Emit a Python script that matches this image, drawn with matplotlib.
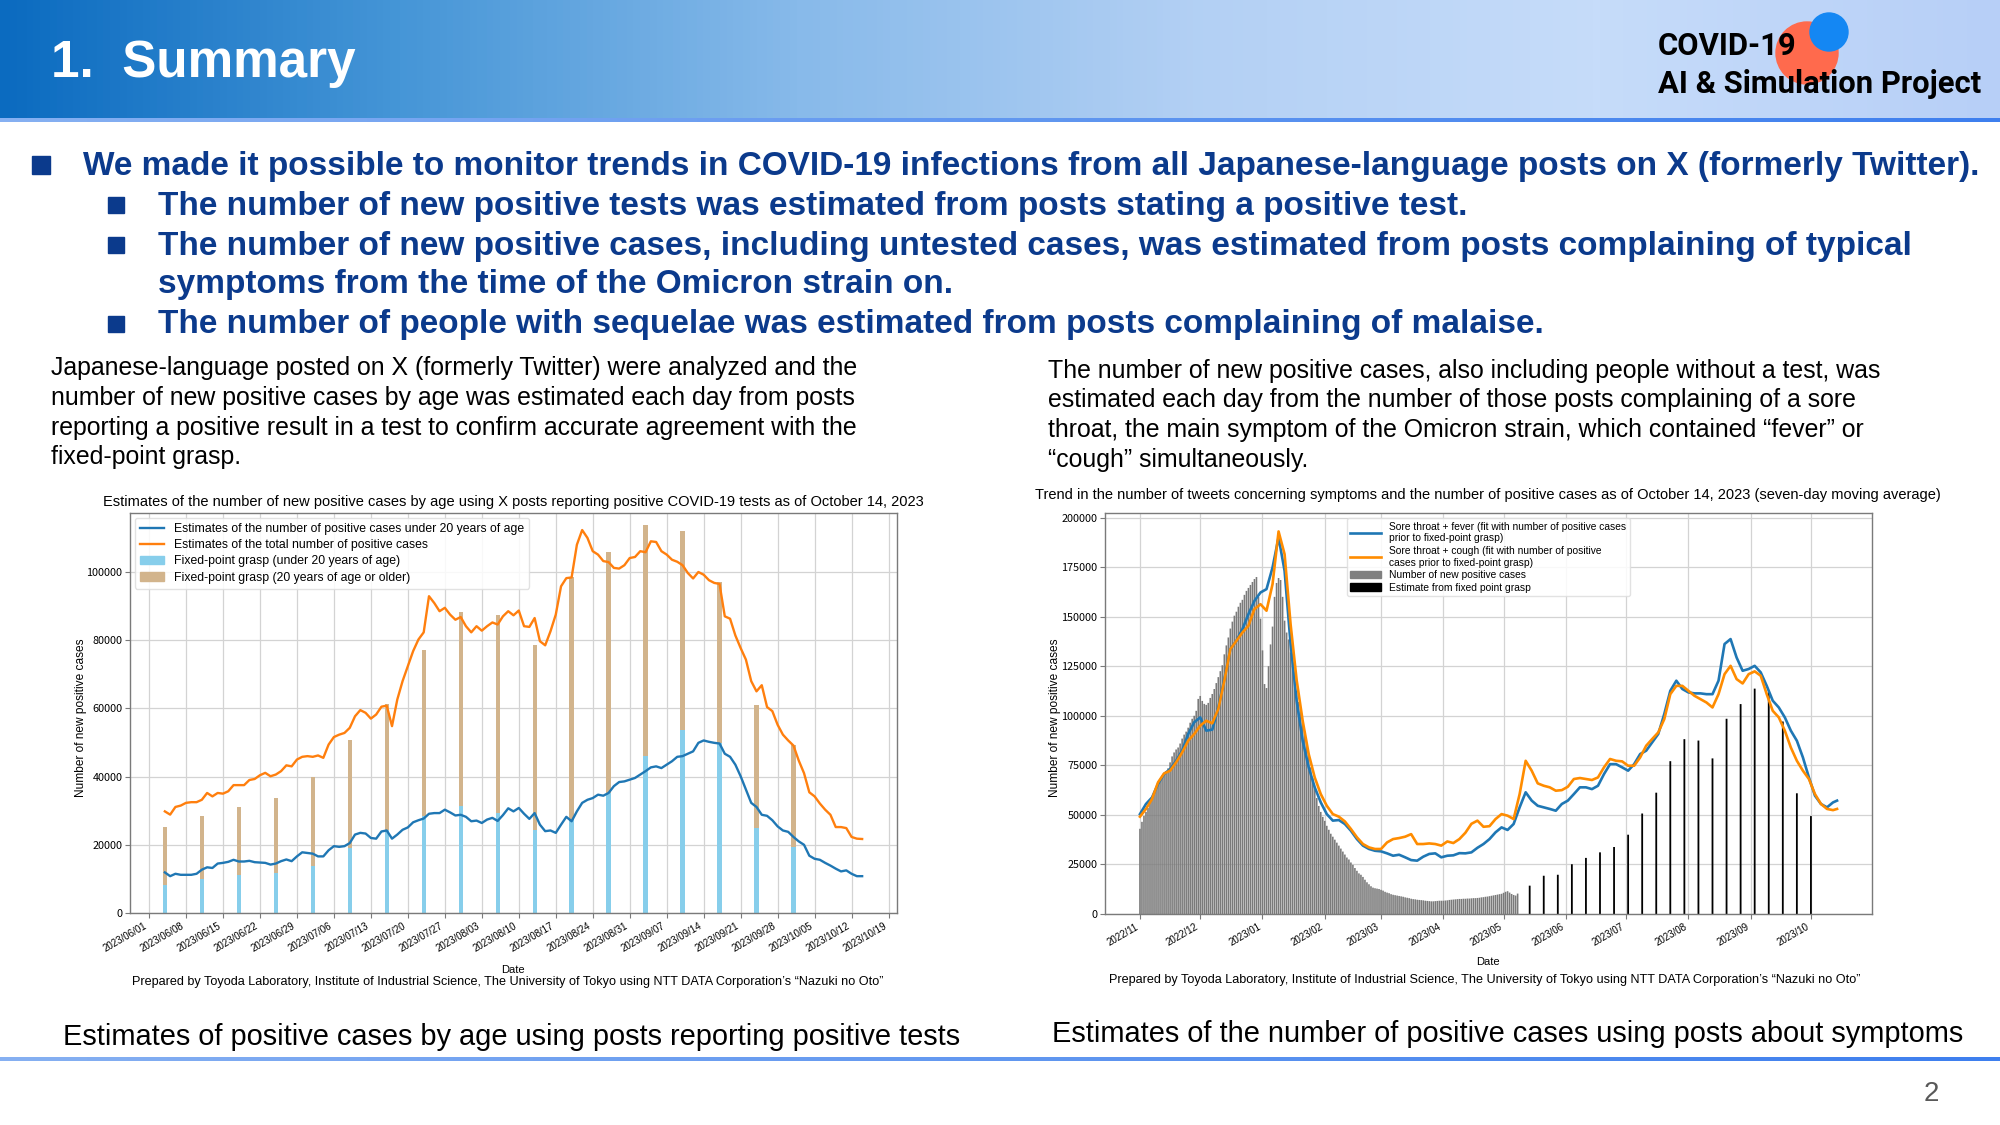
import numpy as np
import pandas as pd
import matplotlib
matplotlib.use('Agg')
import matplotlib.pyplot as plt
from matplotlib.patches import Rectangle, Circle, Patch
from matplotlib.lines import Line2D
from matplotlib.colors import LinearSegmentedColormap

# ------------------------------------------------------------------ data
# Left chart: estimates by age (daily, from 2023-06-04)
left_line_start = '2023-06-04'
under20_est = [11900, 10800, 11500, 11200, 11200, 11200, 11500, 12700, 13400, 13200,
               14500, 14700, 15000, 15600, 15100, 15100, 15300, 14900, 14800, 14700,
               14200, 14500, 15200, 15700, 15200, 16600, 17800, 17600, 17400, 16600,
               16600, 18400, 19600, 19400, 19600, 20500, 23000, 23500, 23300, 22000,
               21800, 23900, 24200, 21800, 23000, 24400, 25100, 26600, 27200, 27700,
               29100, 29300, 29300, 30300, 29500, 28600, 28800, 28200, 26900, 27100,
               26400, 27400, 27900, 27000, 28700, 30700, 29800, 30800, 29100, 27600,
               29300, 25900, 24000, 24200, 23500, 25900, 28200, 26900, 29800, 32300,
               33200, 33700, 34700, 34400, 35200, 37200, 38400, 38600, 39100, 39600,
               40600, 41600, 42700, 43000, 42500, 43500, 44500, 45800, 46000, 46700,
               47400, 49900, 50600, 50200, 49900, 49700, 46700, 45800, 43500, 40100,
               36200, 32300, 31100, 28800, 28500, 27200, 25400, 24200, 23800, 22300,
               21000, 20000, 16800, 15900, 15600, 14700, 13900, 13000, 12200, 12500,
               11500, 10800, 10800]
total_est = [29800, 28850, 31100, 31500, 32300, 32500, 32500, 33200, 35200, 34200,
             35200, 35000, 35700, 37500, 37500, 37500, 39000, 39300, 40400, 41100,
             40100, 40600, 41600, 43300, 43000, 45000, 45800, 46000, 45800, 46200,
             45500, 49400, 51600, 52300, 52800, 54300, 57700, 59500, 58700, 57000,
             58200, 60500, 60800, 54800, 62600, 68000, 72400, 76800, 80200, 82300,
             92900, 90900, 88500, 89500, 87500, 86000, 86800, 84100, 82300, 84100,
             82800, 84100, 85200, 84600, 87000, 88500, 87300, 88700, 84100, 83900,
             86500, 79700, 78500, 82600, 87500, 95800, 98200, 98400, 108000, 112300,
             110000, 106100, 105100, 103200, 102900, 101200, 101000, 102000, 104100, 104400,
             106100, 105800, 109000, 108800, 106100, 105100, 103600, 103000, 102000, 99700,
             98100, 100000, 99200, 97600, 96800, 96500, 87000, 86300, 81400, 77700,
             74300, 68000, 65000, 66800, 60400, 59200, 55200, 52300, 50600, 49100,
             44700, 41000, 35400, 34200, 32100, 30300, 28800, 25200, 25200, 24900,
             22300, 21800, 21700]
fixed_dates_left = ['2023-06-04', '2023-06-11', '2023-06-18', '2023-06-25', '2023-07-02',
                    '2023-07-09', '2023-07-16', '2023-07-23', '2023-07-30', '2023-08-06',
                    '2023-08-13', '2023-08-20', '2023-08-27', '2023-09-03', '2023-09-10',
                    '2023-09-17', '2023-09-24', '2023-10-01']
fixed_under20 = [8300, 10100, 11000, 11700, 13800, 19000, 24400, 28300, 31300, 29300,
                 24400, 27400, 35200, 45900, 53800, 49900, 24900, 19500]
fixed_total = [25100, 28300, 31100, 33800, 40000, 50700, 61200, 77100, 88200, 87500,
               78500, 98500, 105900, 113700, 111900, 97100, 60900, 49400]
left_xticks = ['2023/06/01', '2023/06/08', '2023/06/15', '2023/06/22', '2023/06/29',
               '2023/07/06', '2023/07/13', '2023/07/20', '2023/07/27', '2023/08/03',
               '2023/08/10', '2023/08/17', '2023/08/24', '2023/08/31', '2023/09/07',
               '2023/09/14', '2023/09/21', '2023/09/28', '2023/10/05', '2023/10/12',
               '2023/10/19']
left_yticks = [0, 20000, 40000, 60000, 80000, 100000]

# Right chart: symptom posts vs positive cases
new_cases_start = '2022-11-01'
new_cases = [43000, 46500, 49500, 51500, 53500, 56000, 58500, 60500, 63000, 65500,
             67500, 69000, 70500, 72000, 73500, 76500, 79500, 81500, 83000, 84000,
             86000, 88500, 90500, 92000, 94000, 96500, 98500, 100000, 102500, 108500,
             110000, 107500, 106000, 105500, 106500, 109000, 111000, 113500, 116500, 119500,
             122500, 125500, 131000, 135500, 139500, 144000, 147500, 150500, 152500, 155000,
             157000, 158500, 161000, 163000, 164500, 166000, 167500, 169000, 170000, 160000,
             149000, 133000, 116000, 114000, 125000, 136000, 145000, 160000, 167000, 169500,
             168500, 160000, 148000, 142000, 138500, 132000, 127000, 119500, 112500, 107000,
             102000, 96500, 91500, 85500, 80000, 74000, 68500, 63000, 58500, 54500,
             51500, 49000, 47000, 44500, 42500, 40500, 39000, 37500, 36000, 34500,
             33000, 31500, 30000, 28500, 27500, 26000, 24800, 23200, 21800, 20500,
             19800, 18700, 17300, 16000, 15000, 14000, 13300, 13000, 12800, 12600,
             12200, 11800, 11200, 10800, 10500, 10000, 9700, 9500, 9300, 9100,
             8900, 8700, 8400, 8200, 8000, 7700, 7500, 7400, 7200, 7100,
             7000, 6900, 6700, 6600, 6500, 6400, 6400, 6500, 6600, 6700,
             6700, 6700, 6800, 6900, 7100, 7200, 7300, 7400, 7500, 7600,
             7600, 7700, 7700, 7800, 7800, 7900, 8000, 8000, 8100, 8200,
             8400, 8500, 8700, 8800, 9000, 9200, 9400, 9600, 9800, 10000,
             10200, 10700, 11200, 11500, 10800, 10100, 9600, 9300, 10300]
fixed_dates_right = ['2023-05-14', '2023-05-21', '2023-05-28', '2023-06-04', '2023-06-11',
                     '2023-06-18', '2023-06-25', '2023-07-02', '2023-07-09', '2023-07-16',
                     '2023-07-23', '2023-07-30', '2023-08-06', '2023-08-13', '2023-08-20',
                     '2023-08-27', '2023-09-03', '2023-09-10', '2023-09-17', '2023-09-24',
                     '2023-10-01']
fixed_est = [14300, 19300, 19800, 25100, 28300, 31100, 33800, 40000, 50700, 61200,
             77100, 88200, 87500, 78500, 98500, 105900, 113700, 111900, 97100, 60900,
             49400]
# symptom-based estimates, read every 3 days from 2022-11-01, last point 2023-10-14
fever_est = [50400, 55500, 58800, 65600, 70600, 73100, 77300, 82400, 90800, 96700,
             99200, 92500, 93000, 104200, 118500, 133600, 137800, 143700, 151300, 158000,
             162200, 163900, 174800, 190000, 173100, 136000, 107600, 87400, 74000, 63900,
             56300, 50400, 47100, 47400, 45400, 42000, 37800, 34500, 32800, 31900,
             31600, 30600, 29400, 29900, 28600, 27200, 26900, 28900, 30300, 30600,
             28600, 29400, 29600, 30700, 30600, 31100, 33400, 35300, 37800, 41200,
             43700, 42400, 45400, 53800, 61400, 57200, 54600, 53800, 53000, 52100,
             55500, 57200, 60500, 63900, 63900, 63000, 64700, 70600, 75600, 75600,
             74000, 72300, 75600, 80700, 82400, 86600, 90800, 100900, 112600, 117700,
             113500, 111800, 111300, 111300, 110900, 110900, 117700, 136200, 138700, 129400,
             122700, 123600, 125200, 121900, 115100, 107600, 104200, 99200, 92500, 87400,
             79000, 68900, 59700, 55500, 53800, 56300, 57200]
cough_est = [49100, 53000, 58000, 66400, 70900, 72300, 76500, 81500, 87400, 90800,
             95000, 97500, 96200, 103400, 117700, 133600, 137800, 142000, 145400, 153800,
             156300, 153000, 166400, 193000, 181500, 146000, 118000, 97500, 80700, 68900,
             60500, 54600, 50400, 49100, 46700, 42900, 38700, 35300, 33600, 32800,
             32800, 36100, 37800, 38300, 39000, 40300, 35300, 35300, 35600, 35300,
             34500, 36600, 35800, 37800, 41000, 45500, 47100, 44000, 44300, 47900,
             50400, 49600, 47900, 60500, 77300, 72300, 65900, 64700, 63900, 62200,
             62500, 64200, 68100, 68600, 68100, 67600, 68900, 74000, 78200, 77300,
             77000, 74800, 74800, 79000, 84900, 88300, 91600, 98300, 110900, 115100,
             115100, 112600, 110100, 108400, 106700, 104200, 110900, 121000, 125200, 118500,
             116300, 121000, 122400, 120200, 110900, 102500, 99200, 92500, 84000, 77300,
             72300, 68100, 60500, 55500, 53000, 52400, 53000]
right_xticks = ['2022/11', '2022/12', '2023/01', '2023/02', '2023/03', '2023/04',
                '2023/05', '2023/06', '2023/07', '2023/08', '2023/09', '2023/10']
right_yticks = [0, 25000, 50000, 75000, 100000, 125000, 150000, 175000, 200000]

# ------------------------------------------------------------------ figure
W, H = 2000, 1125
fig = plt.figure(figsize=(W / 100, H / 100), dpi=100)
bg = fig.add_axes([0, 0, 1, 1], zorder=0)
bg.axis('off')
renderer = fig.canvas.get_renderer()

NAVY = '#0B3A8C'
SANS = ['Liberation Sans', 'DejaVu Sans']
NARROW = ['Liberation Sans Narrow', 'Roboto', 'DejaVu Sans']
TICKF = ['Noto Sans CJK JP', 'DejaVu Sans']


def fit(t, width):
    w = t.get_window_extent(renderer).width
    t.set_fontsize(t.get_fontsize() * width / w)
    return t.get_fontsize()


# header gradient
hdr = LinearSegmentedColormap.from_list('hdr', ['#0B6BC0', '#4696D7', '#88BAEA', '#B3D0F4', '#C6DCFA', '#B7CFF7'])
grad = np.linspace(0, 1, 600)[None, :]
bg.imshow(grad, extent=[0, W, 118, 0], cmap=hdr, aspect='auto', zorder=0)
line_cm = LinearSegmentedColormap.from_list('ln', ['#86B0F2', '#3E7FEE'])
bg.imshow(grad, extent=[0, W, 122, 118], cmap=line_cm, aspect='auto', zorder=0)
bg.imshow(grad, extent=[0, W, 1061, 1057], cmap=line_cm, aspect='auto', zorder=0)
bg.set_xlim(0, W)
bg.set_ylim(H, 0)

t = bg.text(51, 77, '1.  Summary', color='white', fontweight='bold', family=SANS,
            fontsize=36, va='baseline', ha='left')
fit(t, 305)

# logo
bg.add_patch(Circle((1807, 53), 31, color='#FF6A4D', zorder=2))
bg.add_patch(Circle((1829, 32), 19, color='#1487F3', zorder=3))
t1 = bg.text(1658, 93, 'AI & Simulation Project', fontweight='bold', family=NARROW,
             fontsize=20, va='baseline', zorder=4)
s = fit(t1, 323)
bg.text(1658, 55, 'COVID-19', fontweight='bold', family=NARROW,
        fontsize=s, va='baseline', zorder=4)

# bullets
b1 = bg.text(83, 166, 'We made it possible to monitor trends in COVID-19 infections from all '
             'Japanese-language posts on X (formerly Twitter).', color=NAVY, fontweight='bold',
             family=SANS, fontsize=22, va='center')
bs = fit(b1, 1893)
bg.add_patch(Rectangle((32, 156), 18, 18, color=NAVY))
sub = [(206, 'The number of new positive tests was estimated from posts stating a positive test.', True),
       (246, 'The number of new positive cases, including untested cases, was estimated from posts '
             'complaining of typical', True),
       (285, 'symptoms from the time of the Omicron strain on.', False),
       (325, 'The number of people with sequelae was estimated from posts complaining of malaise.', True)]
for y, txt, bul in sub:
    bg.text(158, y, txt, color=NAVY, fontweight='bold', family=SANS, fontsize=bs, va='center')
    if bul:
        bg.add_patch(Rectangle((108, y - 9), 16, 16, color=NAVY))

# paragraphs
left_par = ['Japanese-language posted on X (formerly Twitter) were analyzed and the',
            'number of new positive cases by age was estimated each day from posts',
            'reporting a positive result in a test to confirm accurate agreement with the',
            'fixed-point grasp.']
right_par = ['The number of new positive cases, also including people without a test, was',
             'estimated each day from the number of those posts complaining of a sore',
             'throat, the main symptom of the Omicron strain, which contained \u201cfever\u201d or',
             '\u201ccough\u201d simultaneously.']
p0 = bg.text(51, 368, left_par[0], family=SANS, fontsize=16, va='center', color='black')
ps = fit(p0, 809)
for i, y in enumerate([398, 428, 457]):
    bg.text(51, y, left_par[i + 1], family=SANS, fontsize=ps, va='center', color='black')
for i, y in enumerate([371, 400, 430, 460]):
    bg.text(1048, y, right_par[i], family=SANS, fontsize=ps, va='center', color='black')

# captions
c1 = bg.text(512, 1037, 'Estimates of positive cases by age using posts reporting positive tests',
             family=SANS, fontsize=19, ha='center', va='center')
cs = fit(c1, 900)
bg.text(1508, 1034, 'Estimates of the number of positive cases using posts about symptoms',
        family=SANS, fontsize=cs, ha='center', va='center')
bg.text(1931, 1094, '2', family=SANS, fontsize=20, ha='center', va='center', color='#595959')

# chart titles / labels / credits
credit = ('Prepared by Toyoda Laboratory, Institute of Industrial Science, The University of Tokyo '
          'using NTT DATA Corporation\u2019s \u201cNazuki no Oto\u201d')
tl = bg.text(513, 502, 'Estimates of the number of new positive cases by age using X posts reporting '
             'positive COVID-19 tests as of October 14, 2023', family=SANS, fontsize=10,
             ha='center', va='center')
fit(tl, 815)
tr = bg.text(1488, 495, 'Trend in the number of tweets concerning symptoms and the number of positive '
             'cases as of October 14, 2023 (seven-day moving average)', family=SANS, fontsize=10,
             ha='center', va='center')
fit(tr, 901)
cl = bg.text(508, 982, credit, family=SANS, fontsize=8, ha='center', va='center')
fit(cl, 751)
cr = bg.text(1485, 980, credit, family=SANS, fontsize=8, ha='center', va='center')
fit(cr, 751)
bg.text(513, 970, 'Date', family=SANS, fontsize=8, ha='center', va='center')
bg.text(1488, 962, 'Date', family=SANS, fontsize=8, ha='center', va='center')
bg.text(81, 718, 'Number of new positive cases', family=SANS, fontsize=8.6, rotation=90,
        ha='center', va='center')
bg.text(1055, 718, 'Number of new positive cases', family=SANS, fontsize=8.6, rotation=90,
        ha='center', va='center')


def style(ax):
    ax.grid(True, color='#d3d3d3', linewidth=0.9)
    ax.set_axisbelow(True)
    for sp in ax.spines.values():
        sp.set_color('#7a7a7a')
        sp.set_linewidth(1.0)
    ax.tick_params(axis='both', length=3.5, width=0.8, color='#7a7a7a', pad=2)


# ------------------------------------------------------------------ left chart
axL = fig.add_axes([130 / W, 1 - 913 / H, 767 / W, 400 / H], zorder=2)
style(axL)
ld = pd.date_range(left_line_start, periods=len(total_est), freq='D')
fd = pd.to_datetime(fixed_dates_left)
f_u20 = np.array(fixed_under20)
f_tot = np.array(fixed_total)
axL.bar(fd, f_u20, width=0.8, color='#87CEEB', zorder=2, linewidth=0)
axL.bar(fd, f_tot - f_u20, bottom=f_u20, width=0.8, color='#D2B48C', zorder=2, linewidth=0)
axL.plot(ld, under20_est, color='#1f77b4', lw=1.7, zorder=3)
axL.plot(ld, total_est, color='#ff7f0e', lw=1.7, zorder=3)
axL.set_ylim(0, 117300)
axL.set_yticks(left_yticks)
axL.set_yticklabels([str(v) for v in left_yticks], fontsize=7.8, family=TICKF)
lt = pd.to_datetime(left_xticks, format='%Y/%m/%d')
axL.set_xticks(lt)
axL.set_xticklabels(left_xticks, rotation=30, ha='right', fontsize=7.0, family=SANS)
axL.set_xlim(ld[0] - pd.Timedelta(days=6.6), ld[-1] + pd.Timedelta(days=6.6))
hL = [Line2D([], [], color='#1f77b4', lw=1.7), Line2D([], [], color='#ff7f0e', lw=1.7),
      Patch(color='#87CEEB'), Patch(color='#D2B48C')]
axL.legend(hL, ['Estimates of the number of positive cases under 20 years of age',
                'Estimates of the total number of positive cases',
                'Fixed-point grasp (under 20 years of age)',
                'Fixed-point grasp (20 years of age or older)'],
           loc='upper left', prop={'family': SANS, 'size': 8.8}, framealpha=0.85,
           edgecolor='#dddddd', labelspacing=0.35, borderaxespad=0.4)

# ------------------------------------------------------------------ right chart
axR = fig.add_axes([1105 / W, 1 - 914 / H, 767 / W, 401 / H], zorder=2)
style(axR)
nd = pd.date_range(new_cases_start, periods=len(new_cases), freq='D')
gbars = axR.bar(nd, new_cases, width=0.8, color='#7a7a7a', zorder=2, linewidth=0)
bbars = axR.bar(pd.to_datetime(fixed_dates_right), fixed_est, width=0.9, color='black', zorder=2,
                linewidth=0)
for p in list(gbars) + list(bbars):
    p.set_snap(False)
sd = list(pd.date_range('2022-11-01', periods=len(fever_est) - 1, freq='3D')) + [pd.Timestamp('2023-10-14')]
axR.plot(sd, fever_est, color='#1f77b4', lw=1.9, zorder=3)
axR.plot(sd, cough_est, color='#ff8c00', lw=1.9, zorder=3)
axR.set_ylim(0, 202300)
axR.set_yticks(right_yticks)
axR.set_yticklabels([str(v) for v in right_yticks], fontsize=7.8, family=TICKF)
rt = pd.to_datetime([s + '/01' for s in right_xticks], format='%Y/%m/%d')
axR.set_xticks(rt)
axR.set_xticklabels(right_xticks, rotation=30, ha='right', fontsize=7.0, family=SANS)
axR.set_xlim(pd.Timestamp('2022-11-01') - pd.Timedelta(days=17.4),
             pd.Timestamp('2023-10-14') + pd.Timedelta(days=17.4))
hR = [Line2D([], [], color='#1f77b4', lw=1.9), Line2D([], [], color='#ff8c00', lw=1.9),
      Patch(color='#808080'), Patch(color='black')]
axR.legend(hR, ['Sore throat + fever (fit with number of positive cases\nprior to fixed-point grasp)',
                'Sore throat + cough (fit with number of positive\ncases prior to fixed-point grasp)',
                'Number of new positive cases', 'Estimate from fixed point grasp'],
           loc='upper center', prop={'family': SANS, 'size': 7.4}, framealpha=0.85,
           edgecolor='#dddddd', handlelength=3.0, labelspacing=0.25, borderaxespad=0.5,
           borderpad=0.35)

fig.savefig('out.png', dpi=100)
